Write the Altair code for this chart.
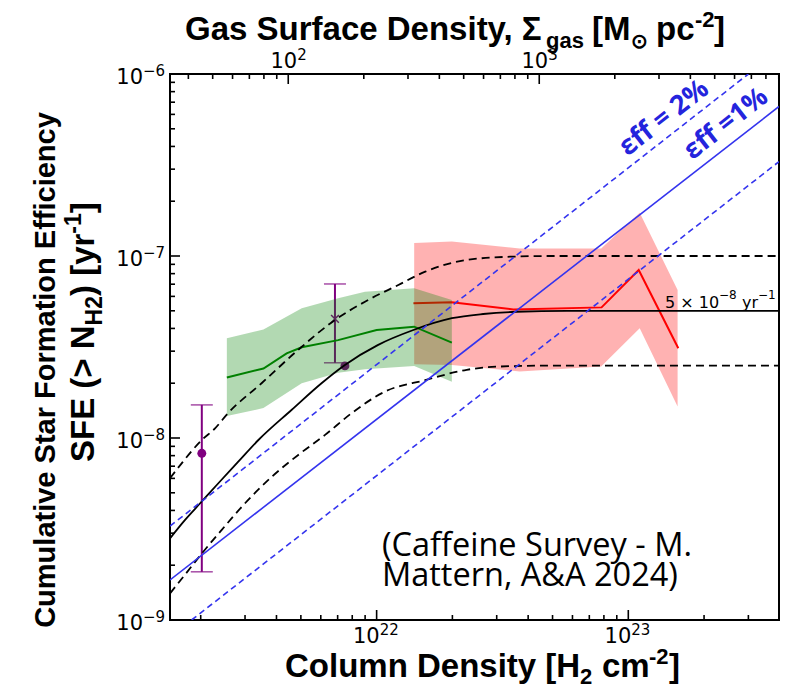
import math
import altair as alt
import pandas as pd

# ---------------- axes ranges & ticks ----------------
X_DOMAIN = [1.51e21, 3.97e23]          # column density N(H2) [cm^-2]
Y_DOMAIN = [1e-9, 1e-6]                # cumulative SFE [yr^-1]
SIGMA_DOMAIN = [33.8, 9.02e3]          # gas surface density [Msun pc^-2] (top axis)

Y_MAJOR = [1e-9, 1e-8, 1e-7, 1e-6]
Y_EXP = ["\u22129", "\u22128", "\u22127", "\u22126"]
Y_MINOR = [k * 10.0 ** e for e in (-9, -8, -7) for k in range(2, 10)]
X_MAJOR = [1e22, 1e23]
X_EXP = ["22", "23"]
X_MINOR = [k * 10.0 ** e for e in (21, 22) for k in range(2, 10)] + [2e23, 3e23]
S_MAJOR = [1e2, 1e3]
S_EXP = ["2", "3"]
S_MINOR = [40.0, 50.0, 60.0, 70.0, 80.0, 90.0] + [k * 100.0 for k in range(2, 10)] + [k * 1000.0 for k in range(2, 10)]

# ---------------- model curves ----------------
SOLID_N = [1.51e21, 1.73e21, 1.99e21, 2.35e21, 2.82e21, 3.39e21, 4.60e21, 6.04e21,
           7.48e21, 1.01e22, 1.40e22, 1.99e22, 2.65e22, 3.60e22, 5.69e22, 3.97e23]
SOLID_S = [2.81e-9, 3.54e-9, 4.38e-9, 5.64e-9, 7.41e-9, 9.75e-9, 1.43e-8, 2.00e-8,
           2.52e-8, 3.24e-8, 3.92e-8, 4.55e-8, 4.80e-8, 4.94e-8, 5.00e-8, 5.00e-8]
UPPER_N = [1.51e21, 1.68e21, 2.02e21, 2.28e21, 2.57e21, 3.49e21, 4.88e21, 6.83e21,
           8.99e21, 1.22e22, 1.56e22, 2.28e22, 3.39e22, 4.89e22, 3.97e23]
UPPER_S = [6.01e-9, 7.26e-9, 9.75e-9, 1.13e-8, 1.37e-8, 2.00e-8, 3.05e-8, 4.45e-8,
           5.61e-8, 6.93e-8, 8.20e-8, 9.51e-8, 9.91e-8, 1.00e-7, 1.00e-7]
LOWER_N = [1.51e21, 1.73e21, 2.02e21, 2.42e21, 3.00e21, 3.83e21, 4.88e21, 6.24e21,
           7.96e21, 1.08e22, 1.56e22, 2.28e22, 3.09e22, 4.89e22, 3.97e23]
LOWER_S = [1.40e-9, 1.77e-9, 2.32e-9, 3.12e-9, 4.38e-9, 6.12e-9, 8.07e-9, 1.04e-8,
           1.37e-8, 1.80e-8, 2.08e-8, 2.37e-8, 2.47e-8, 2.50e-8, 2.50e-8]

# efficiency-per-free-fall-time lines
EFF1_N = [1.51e21, 3.97e23]
EFF1_S = [1.66e-9, 6.63e-7]
EFF2_N = [1.51e21, 3.00e23]
EFF2_S = [3.28e-9, 1.00e-6]
EFF05_N = [1.84e21, 3.97e23]
EFF05_S = [1.00e-9, 3.30e-7]

# ---------------- observations ----------------
GREEN_N = [2.54e21, 3.55e21, 5.04e21, 7.03e21, 8.99e21, 1.41e22, 1.99e22]
GREEN_HI = [3.53e-8, 3.95e-8, 5.16e-8, 5.86e-8, 6.37e-8, 6.65e-8, 5.73e-8]
GREEN_LO = [1.32e-8, 1.46e-8, 2.00e-8, 2.28e-8, 2.39e-8, 2.49e-8, 2.04e-8]
GREEN_LINE_N = [2.54e21, 3.55e21, 4.39e21, 5.04e21, 7.03e21, 1.00e22, 1.41e22, 1.99e22]
GREEN_LINE_S = [2.15e-8, 2.41e-8, 2.92e-8, 3.15e-8, 3.45e-8, 3.92e-8, 4.09e-8, 3.34e-8]

RED_N = [1.41e22, 1.99e22, 3.70e22, 7.80e22, 1.11e23, 1.57e23]
RED_HI = [1.18e-7, 1.20e-7, 1.10e-7, 1.10e-7, 1.73e-7, 6.50e-8]
RED_LO = [2.54e-8, 2.52e-8, 2.32e-8, 2.47e-8, 4.01e-8, 1.49e-8]
RED_LINE_N = [1.40e22, 1.99e22, 3.49e22, 7.83e22, 1.10e23, 1.58e23]
RED_LINE_S = [5.50e-8, 5.57e-8, 5.09e-8, 5.22e-8, 8.38e-8, 3.11e-8]

ERR_N = [2.02e21, 6.83e21]
ERR_LO = [1.84e-9, 2.59e-8]
ERR_HI = [1.52e-8, 7.02e-8]
DOT_N = [2.02e21, 7.48e21]
DOT_S = [8.24e-9, 2.49e-8]
CROSS_N = [6.83e21]
CROSS_S = [4.51e-8]

# ---------------- layout ----------------
W, H = 609, 546
PAD = {"left": 162, "top": 66, "right": 5, "bottom": 68}
OX, OY = 8 + PAD["left"], 8 + PAD["top"]   # page position of plot origin

BLACK = "black"
BLUE = "#3434ee"
BLUE_TXT = "#2424dd"
GREEN = "#008000"
RED = "#ff0000"
PURPLE = "#800080"
TITLE_FONT = "Liberation Sans"
TICK_FONT = "DejaVu Sans"

xsc = alt.Scale(type="log", domain=X_DOMAIN, nice=False)
ysc = alt.Scale(type="log", domain=Y_DOMAIN, nice=False)
ssc = alt.Scale(type="log", domain=SIGMA_DOMAIN, nice=False)

# pixels per decade on each log axis (to express tick lengths in pixels)
PX_DEC_X = W / math.log10(X_DOMAIN[1] / X_DOMAIN[0])
PX_DEC_Y = H / math.log10(Y_DOMAIN[1] / Y_DOMAIN[0])


def X(f="N", scale=xsc):
    return alt.X(f"{f}:Q", scale=scale, axis=None)


def Y(f="S"):
    return alt.Y(f"{f}:Q", scale=ysc, axis=None)


def line(n, s, color, width=1.8, dash=None, smooth=False):
    kw = dict(color=color, strokeWidth=width, clip=True)
    if dash:
        kw["strokeDash"] = dash
    if smooth:
        kw["interpolate"] = "monotone"
    return alt.Chart(pd.DataFrame({"N": n, "S": s})).mark_line(**kw).encode(x=X(), y=Y())


def band(n, hi, lo, color):
    df = pd.DataFrame({"N": n, "hi": hi, "lo": lo})
    return alt.Chart(df).mark_area(color=color, opacity=0.3, clip=True).encode(
        x=X(), y=Y("hi"), y2="lo:Q")


def txt(s, x, y, size, font=TITLE_FONT, weight="bold", color=BLACK, align="left",
        baseline="alphabetic", angle=None, dy=0, lineHeight=None):
    kw = dict(align=align, baseline=baseline, font=font, fontSize=size,
              fontWeight=weight, color=color, dy=dy)
    if angle is not None:
        kw["angle"] = angle
    if lineHeight is not None:
        kw["lineHeight"] = lineHeight
        kw["lineBreak"] = "\n"
    return alt.Chart(pd.DataFrame({"t": [s]})).mark_text(**kw).encode(
        x=alt.value(x - OX), y=alt.value(y - OY), text="t:N")


# inward ticks: short two-point segments starting on the frame edge
def yticks(vals, length):
    f = 10 ** (length / PX_DEC_X)
    rows = []
    for i, v in enumerate(vals):
        rows += [{"k": i, "N": X_DOMAIN[0], "S": v}, {"k": i, "N": X_DOMAIN[0] * f, "S": v}]
    return alt.Chart(pd.DataFrame(rows)).mark_line(color=BLACK, strokeWidth=1.6).encode(
        x=X(), y=Y(), detail="k:N")


def xticks(vals, scale, length, top=False):
    f = 10 ** (length / PX_DEC_Y)
    e0, e1 = (Y_DOMAIN[1], Y_DOMAIN[1] / f) if top else (Y_DOMAIN[0], Y_DOMAIN[0] * f)
    rows = []
    for i, v in enumerate(vals):
        rows += [{"k": i, "N": v, "S": e0}, {"k": i, "N": v, "S": e1}]
    return alt.Chart(pd.DataFrame(rows)).mark_line(color=BLACK, strokeWidth=1.6).encode(
        x=X("N", scale), y=Y(), detail="k:N", order="S:Q")


layers = []

# purple error bars / points (under the green band)
err_df = pd.DataFrame({"N": ERR_N, "lo": ERR_LO, "hi": ERR_HI})
layers.append(alt.Chart(err_df).mark_rule(color=PURPLE, strokeWidth=2).encode(
    x=X(), y=Y("lo"), y2="hi:Q"))
layers.append(alt.Chart(err_df).mark_tick(color=PURPLE, orient="horizontal", size=22,
                                          thickness=1.5).encode(x=X(), y=Y("lo")))
layers.append(alt.Chart(err_df).mark_tick(color=PURPLE, orient="horizontal", size=22,
                                          thickness=1.5).encode(x=X(), y=Y("hi")))
layers.append(alt.Chart(pd.DataFrame({"N": DOT_N, "S": DOT_S})).mark_circle(
    color=PURPLE, size=80, opacity=1).encode(x=X(), y=Y()))
layers.append(alt.Chart(pd.DataFrame({"N": CROSS_N, "S": CROSS_S})).mark_point(
    shape="M-1,-1L1,1M-1,1L1,-1", filled=False, color=PURPLE, strokeWidth=1.5,
    size=60, opacity=1).encode(x=X(), y=Y()))

# red (high-mass) band and median
layers.append(band(RED_N, RED_HI, RED_LO, RED))
layers.append(line(RED_LINE_N, RED_LINE_S, RED, width=2))
# green band and median
layers.append(band(GREEN_N, GREEN_HI, GREEN_LO, GREEN))
layers.append(line(GREEN_LINE_N, GREEN_LINE_S, GREEN, width=2))

# model curves
layers.append(line(SOLID_N, SOLID_S, BLACK, width=1.8, smooth=True))
layers.append(line(UPPER_N, UPPER_S, BLACK, width=1.8, dash=[8, 5], smooth=True))
layers.append(line(LOWER_N, LOWER_S, BLACK, width=1.8, dash=[8, 5], smooth=True))

# eff lines
layers.append(line(EFF1_N, EFF1_S, BLUE, width=1.6))
layers.append(line(EFF2_N, EFF2_S, BLUE, width=1.6, dash=[6, 4]))
layers.append(line(EFF05_N, EFF05_S, BLUE, width=1.6, dash=[6, 4]))

# ticks (inward, matplotlib style)
layers.append(yticks(Y_MAJOR, 10))
layers.append(yticks(Y_MINOR, 5))
layers.append(xticks(X_MAJOR, xsc, 10))
layers.append(xticks(X_MINOR, xsc, 5))
layers.append(xticks(S_MAJOR, ssc, 10, top=True))
layers.append(xticks(S_MINOR, ssc, 5, top=True))

# tick labels 10^n
ydf = pd.DataFrame({"v": Y_MAJOR, "b": ["10"] * len(Y_MAJOR), "e": Y_EXP})
layers.append(alt.Chart(ydf).mark_text(align="right", baseline="alphabetic", font=TICK_FONT,
                                       fontSize=21, dy=10, color=BLACK).encode(
    y=Y("v"), x=alt.value(-27), text="b:N"))
layers.append(alt.Chart(ydf).mark_text(align="right", baseline="alphabetic", font=TICK_FONT,
                                       fontSize=15, dy=2, color=BLACK).encode(
    y=Y("v"), x=alt.value(-5), text="e:N"))
xdf = pd.DataFrame({"v": X_MAJOR, "b": ["10"] * len(X_MAJOR), "e": X_EXP})
layers.append(alt.Chart(xdf).mark_text(align="right", baseline="alphabetic", font=TICK_FONT,
                                       fontSize=21, dx=3, color=BLACK).encode(
    x=X("v"), y=alt.value(H + 23), text="b:N"))
layers.append(alt.Chart(xdf).mark_text(align="left", baseline="alphabetic", font=TICK_FONT,
                                       fontSize=15, dx=3, color=BLACK).encode(
    x=X("v"), y=alt.value(H + 15), text="e:N"))
sdf = pd.DataFrame({"v": S_MAJOR, "b": ["10"] * len(S_MAJOR), "e": S_EXP})
layers.append(alt.Chart(sdf).mark_text(align="right", baseline="alphabetic", font=TICK_FONT,
                                       fontSize=21, dx=9, color=BLACK).encode(
    x=X("v", ssc), y=alt.value(-6), text="b:N"))
layers.append(alt.Chart(sdf).mark_text(align="left", baseline="alphabetic", font=TICK_FONT,
                                       fontSize=15, dx=9, color=BLACK).encode(
    x=X("v", ssc), y=alt.value(-14), text="e:N"))

# top title: Gas Surface Density, Σgas [M⊙ pc-2]
TB = 40
layers += [
    txt("Gas Surface Density, \u03a3", 185, TB, 33),
    txt("gas", 546, TB, 22, dy=8),
    txt("[M", 592, TB, 33),
    txt("\u2299", 631, TB, 20, dy=8),
    txt("pc", 656, TB, 33),
    txt("-2", 695, TB, 22, dy=-13),
    txt("]", 714, TB, 33),
]
# bottom title: Column Density [H2 cm-2]
BB = 677
layers += [
    txt("Column Density [H", 285, BB, 33),
    txt("2", 580, BB, 22, dy=7),
    txt("cm", 602, BB, 33),
    txt("-2", 649, BB, 22, dy=-13),
    txt("]", 669, BB, 33),
]
# y title (rotated)
layers.append(txt("Cumulative Star Formation Efficiency", 55, 370, 29, align="center", angle=270))
L2X = 94
layers += [
    txt("SFE (> N", L2X, 462, 33, angle=270),
    txt("H2", L2X, 325.4, 23, angle=270, dy=8),
    txt(") [yr", L2X, 296, 33, angle=270),
    txt("-1", L2X, 233.7, 23, angle=270, dy=-13),
    txt("]", L2X, 213.3, 33, angle=270),
]

# annotations
layers += [
    txt("\u03b5ff = 2%", 664, 118, 27, font="Open Sans", color=BLUE_TXT, align="center",
        baseline="middle", angle=322),
    txt("\u03b5ff =1%", 726, 124, 27, font="Open Sans", color=BLUE_TXT, align="center",
        baseline="middle", angle=322),
    txt("5 \u00d7 10", 665, 308, 16, font=TICK_FONT, weight="normal"),
    txt("\u22128", 719, 299, 12, font=TICK_FONT, weight="normal"),
    txt("yr", 742, 308, 16, font=TICK_FONT, weight="normal"),
    txt("\u22121", 758, 299, 12, font=TICK_FONT, weight="normal"),
    txt("(Caffeine Survey - M.\nMattern, A&A 2024)", 382, 556, 32.5, font="Open Sans",
        weight="normal", lineHeight=29.5),
]

chart = alt.layer(*layers).resolve_scale(x="independent", y="independent").properties(
    width=W, height=H, padding=PAD, autosize=alt.AutoSizeParams(type="none"),
    background="white",
).configure_view(stroke=BLACK, strokeWidth=2)

chart.save("out.html", embed_options={"renderer": "svg", "actions": False})
